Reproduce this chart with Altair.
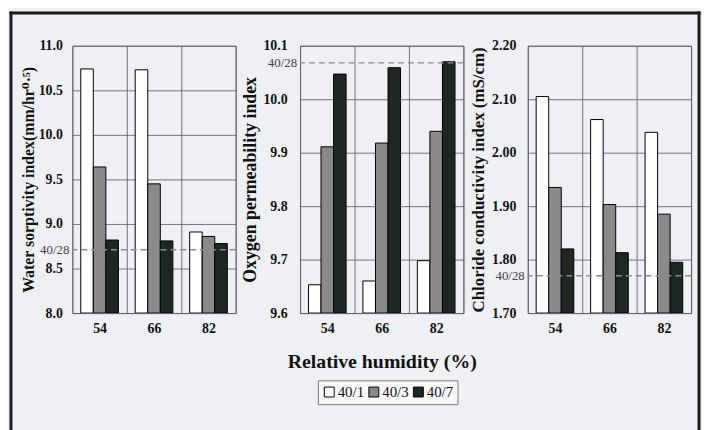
import altair as alt
import pandas as pd

humidity = ["54", "66", "82"]
series = ["40/1", "40/3", "40/7"]
colors = ["#ffffff", "#8a8a8a", "#1d2823"]

water_401 = [10.74, 10.73, 8.91]
water_403 = [9.64, 9.45, 8.86]
water_407 = [8.82, 8.81, 8.78]
water_ref = 8.71

oxygen_401 = [9.653, 9.660, 9.698]
oxygen_403 = [9.911, 9.918, 9.940]
oxygen_407 = [10.047, 10.059, 10.070]
oxygen_ref = 10.068

chloride_401 = [2.105, 2.062, 2.038]
chloride_403 = [1.935, 1.903, 1.885]
chloride_407 = [1.820, 1.813, 1.795]
chloride_ref = 1.770

ref_label = "40/28"

water_ticks = [8.0, 8.5, 9.0, 9.5, 10.0, 10.5, 11.0]
oxygen_ticks = [9.6, 9.7, 9.8, 9.9, 10.0, 10.1]
chloride_ticks = [1.7, 1.8, 1.9, 2.0, 2.1, 2.2]

FONT = "'Liberation Serif', 'Times New Roman', 'DejaVu Serif', serif"
GRID = "#555555"


def make_df(v1, v3, v7, base):
    rows = []
    for s, vals in zip(series, [v1, v3, v7]):
        for h, v in zip(humidity, vals):
            rows.append({"rh": h, "series": s, "value": v, "base": base})
    return pd.DataFrame(rows)


def panel(df, ref, ticks, fmt, ytitle, lpad, tpad, tsize, xtitle=None, legend=None, frame=False):
    domain = [ticks[0], ticks[-1]]
    yscale = alt.Scale(domain=domain, zero=False, nice=False)
    xaxis_kw = dict(labelAngle=0, grid=True, tickBand="extent", gridColor=GRID, gridWidth=0.8,
                    domain=False, ticks=False, labelPadding=9, labelFont=FONT, labelFontSize=14,
                    labelFontWeight="bold", labelColor="#111")
    if xtitle:
        xaxis = alt.Axis(title=xtitle, titleFont=FONT, titleFontSize=20, titleFontWeight="bold",
                         titlePadding=16, titleColor="#111", **xaxis_kw)
    else:
        xaxis = alt.Axis(title=None, **xaxis_kw)
    yaxis = alt.Axis(title=ytitle, values=ticks, format=fmt, grid=True, gridColor=GRID, gridWidth=0.8,
                     domain=False, ticks=False, labelPadding=lpad, labelFont=FONT, labelFontSize=14,
                     labelFontWeight="bold", labelColor="#111", titleFont=FONT, titleFontSize=tsize,
                     titleFontWeight="bold", titleColor="#111", titlePadding=tpad)
    color_kw = dict(sort=series, scale=alt.Scale(domain=series, range=colors))
    if legend is not None:
        color = alt.Color("series:N", legend=legend, **color_kw)
    else:
        color = alt.Color("series:N", legend=None, **color_kw)
    bars = alt.Chart(df).mark_bar(stroke="black", strokeWidth=1, clip=True).encode(
        x=alt.X("rh:N", sort=humidity, scale=alt.Scale(paddingInner=0, paddingOuter=0), axis=xaxis),
        xOffset=alt.XOffset("series:N", sort=series, scale=alt.Scale(paddingInner=0, paddingOuter=0.67)),
        y=alt.Y("value:Q", scale=yscale, axis=yaxis),
        y2="base:Q",
        color=color,
    )
    refdf = pd.DataFrame({"value": [ref], "label": [ref_label]})
    rule = alt.Chart(refdf).mark_rule(color="#8a8a8a", strokeDash=[6, 4], strokeWidth=1.5).encode(
        y=alt.Y("value:Q", scale=yscale)
    )
    lbl = alt.Chart(refdf).mark_text(align="right", baseline="middle", font=FONT, fontSize=13,
                                     color="#444").encode(
        x=alt.value(-3), y=alt.Y("value:Q", scale=yscale), text="label:N"
    )
    layers = [bars, rule, lbl]
    if frame:
        one = pd.DataFrame({"a": [0]})
        fr = dict(strokeWidth=3, color="#1a1a1a", strokeCap="square")
        layers.append(alt.Chart(one).mark_rule(**fr).encode(
            x=alt.value(-62), y=alt.value(-33), y2=alt.value(387)))
        layers.append(alt.Chart(one).mark_rule(**fr).encode(
            x=alt.value(-62), x2=alt.value(633), y=alt.value(-33)))
        layers.append(alt.Chart(one).mark_rule(**fr).encode(
            x=alt.value(633), y=alt.value(-33), y2=alt.value(387)))
    return alt.layer(*layers).properties(width=165, height=270)


legend = alt.Legend(orient="none", legendX=18, legendY=338, direction="horizontal", title=None,
                    symbolType="square", symbolSize=100, symbolStrokeColor="black",
                    symbolStrokeWidth=1, symbolOpacity=1, labelFont=FONT, labelFontSize=15,
                    labelFontWeight="normal", labelColor="#111", strokeColor="#777777",
                    fillColor="#f8f8f8", padding=4, columnPadding=2, labelOffset=1)

p1 = panel(make_df(water_401, water_403, water_407, 8.0), water_ref, water_ticks, ".1f",
           "Water sorptivity index(mm/hr⁰·⁵)", 10, 2, 16, frame=True)
p2 = panel(make_df(oxygen_401, oxygen_403, oxygen_407, 9.6), oxygen_ref, oxygen_ticks, ".1f",
           "Oxygen permeability index", 13, 3, 18, xtitle="Relative humidity (%)", legend=legend)
p3 = panel(make_df(chloride_401, chloride_403, chloride_407, 1.7), chloride_ref, chloride_ticks, ".2f",
           "Chloride conductivity index (mS/cm)", 12, 4, 17)

chart = alt.hconcat(p1, p2, p3, spacing=65, bounds="flush").resolve_scale(
    color="independent", y="independent", x="independent"
).resolve_legend(color="independent").properties(
    background="#eef0f4", padding={"left": 0, "top": 0, "right": 0, "bottom": 0}
).configure_view(stroke="#777777", strokeWidth=1)

chart.save("out.html", embed_options={"renderer": "svg", "actions": False})
